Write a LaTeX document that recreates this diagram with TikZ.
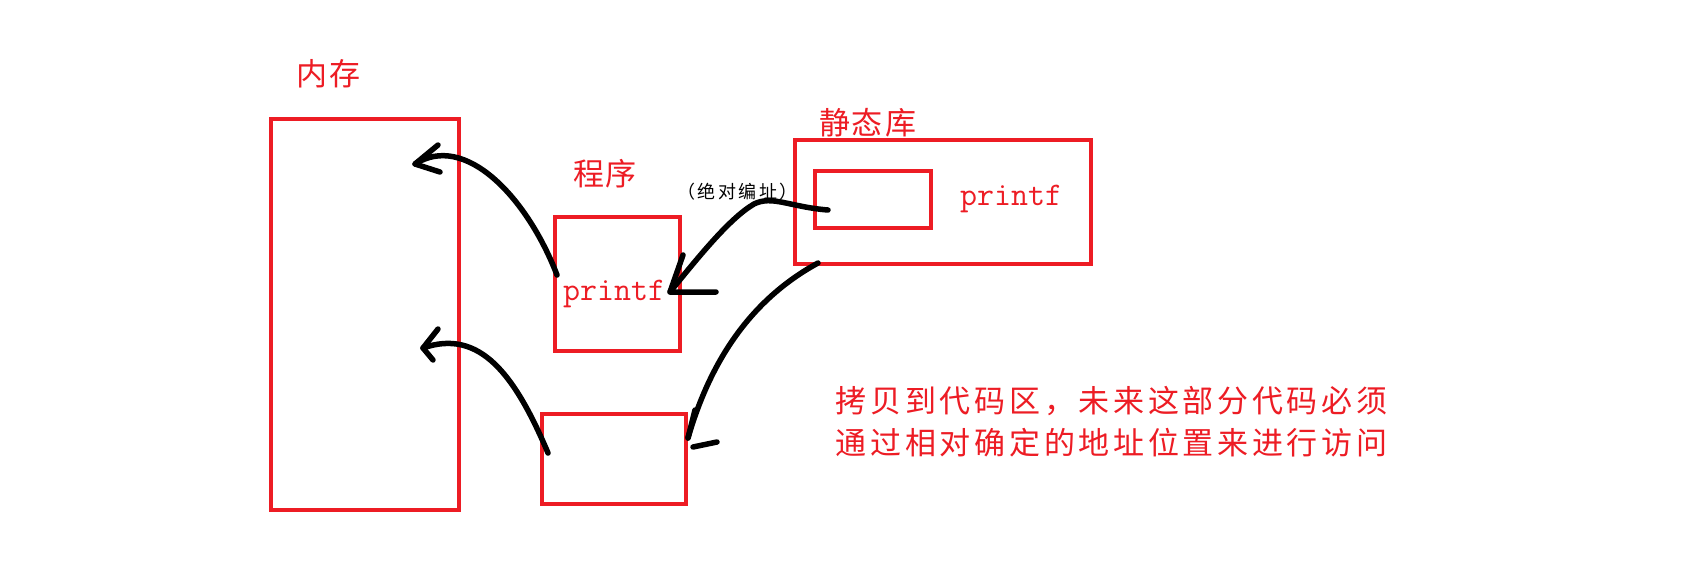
\documentclass[tikz,border=0pt]{standalone}
\usepackage{fontspec}
\newfontfamily\cjk{Noto Sans CJK SC}
\definecolor{pred}{RGB}{237,28,36}
% set each character in a cell of fixed width (letter-spaced CJK text)
\def\spreadchars#1#2{\def\spreadw{#1}\spreadloop#2\relax}
\def\spreadloop#1{\ifx\relax#1\else\hbox to \spreadw{\hss#1\hss}\expandafter\spreadloop\fi}
\tikzset{
  redbox/.style={draw=pred, line width=4.5pt, inner sep=0pt, outer sep=0pt},
  title/.style={text=pred, font=\cjk\fontsize{31}{31}\selectfont, inner sep=0pt},
  fname/.style={text=pred, font=\ttfamily\fontsize{33}{33}\selectfont, inner sep=0pt},
  stroke/.style={draw=black, line width=5.5pt, line cap=round, line join=round},
}
\begin{document}
\begin{tikzpicture}[x=1pt,y=-1pt]
\useasboundingbox[fill=white] (0,0) rectangle (1696,562);
% boxes
\node[redbox, minimum width=188pt, minimum height=391pt] (mem) at (365,314.5) {};
\node[redbox, minimum width=125pt, minimum height=134pt] (prog) at (617.5,284) {};
\node[redbox, minimum width=144pt, minimum height=90pt] (code) at (614,459) {};
\node[redbox, minimum width=296pt, minimum height=124pt] (lib) at (943,202) {};
\node[redbox, minimum width=116pt, minimum height=57pt] (inner) at (873,199.5) {};
% labels
\node[title] (memlbl) at (328.5,74) {\spreadchars{33pt}{内存}};
\node[title] (proglbl) at (605,174) {\spreadchars{33pt}{程序}};
\node[title] (liblbl) at (867.5,122.5) {\spreadchars{33pt}{静态库}};
\node[fname, anchor=base west] (pf1) at (563,300) {printf};
\node[fname, anchor=base west] (pf2) at (960,205) {printf};
\node[inner sep=0pt, font=\cjk\fontsize{18}{18}\selectfont] (abs) at (737.5,191.5) {\spreadchars{20.5pt}{（绝对编址）}};
\node[text=pred, font=\cjk\fontsize{31}{42}\selectfont, align=left, inner sep=0pt] (note) at (1111.6,422)
  {\spreadchars{34.7pt}{拷贝到代码区，未来这部分代码必须}\\\spreadchars{34.7pt}{通过相对确定的地址位置来进行访问}};
% connector end points
\coordinate (a1s) at (557,275);
\coordinate (a1t) at (415,164);
\coordinate (a2s) at (828,210);
\coordinate (a2t) at (670,292);
\coordinate (a3s) at (818,263);
\coordinate (a3t) at (688,438);
\coordinate (a4s) at (548,453);
\coordinate (a4t) at (423,348);
% arrow 1: program -> memory (top)
\draw[stroke] (a1s) .. controls (527,197) and (465,132) .. (a1t);
\draw[stroke] (438,145) -- (a1t) -- (440,172);
% arrow 2: static lib -> printf (absolute)
\draw[stroke] (a2s) .. controls (790,207) and (772,195) .. (754,204)
  .. controls (730,218) and (700,255) .. (a2t);
\draw[stroke] (683,255) -- (a2t) -- (716,292);
% arrow 3: static lib -> code area
\draw[stroke] (a3s) .. controls (750,300) and (710,362) .. (a3t);
\draw[stroke] (695,410) -- (a3t);
\coordinate (t3a) at (693,447);
\coordinate (t3b) at (717,442);
\draw[stroke] (t3a) -- (t3b);
% arrow 4: code area -> memory (lower)
\draw[stroke] (a4s) .. controls (515,375) and (480,328) .. (a4t);
\draw[stroke] (438,329) -- (a4t) -- (433,360);
\end{tikzpicture}
\end{document}
